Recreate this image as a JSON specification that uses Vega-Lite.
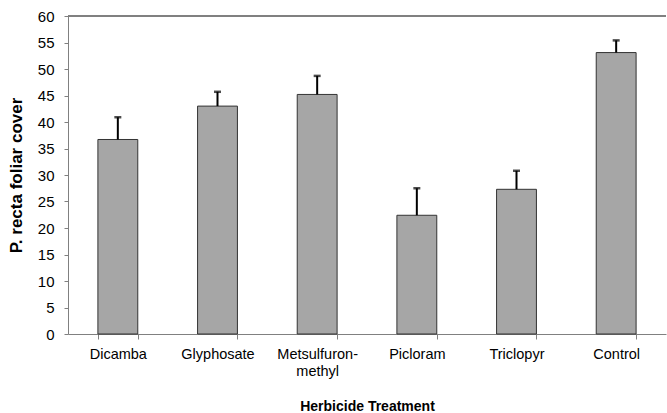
{
  "$schema": "https://vega.github.io/schema/vega-lite/v6.json",
  "autosize": {"type": "none"},
  "width": 598,
  "height": 318,
  "padding": {"left": 68, "top": 16, "right": 1, "bottom": 79},
  "background": "white",
  "config": {
    "view": {"stroke": null},
    "font": "Liberation Sans",
    "axis": {"grid": false, "labelFont": "Liberation Sans", "titleFont": "Liberation Sans", "labelColor": "#000", "titleColor": "#000", "domainColor": "#808080", "tickColor": "#808080", "labelFontSize": 14, "titleFontSize": 14, "titleFontWeight": "bold", "labelOverlap": false}
  },
  "data": {
    "values": [
      {"treatment": "Dicamba", "cover": 36.7, "upper": 40.9},
      {"treatment": "Glyphosate", "cover": 43.0, "upper": 45.7},
      {"treatment": "Metsulfuron-methyl", "cover": 45.2, "upper": 48.7},
      {"treatment": "Picloram", "cover": 22.4, "upper": 27.5},
      {"treatment": "Triclopyr", "cover": 27.3, "upper": 30.8},
      {"treatment": "Control", "cover": 53.1, "upper": 55.4}
    ]
  },
  "encoding": {
    "x": {
      "field": "treatment", "type": "nominal", "sort": null,
      "scale": {"paddingInner": 0.6, "paddingOuter": 0.3},
      "axis": {
        "title": "Herbicide Treatment", "labelAngle": 0, "tickBand": "extent", "tickSize": 5,
        "labelPadding": 8, "labelFontSize": 14.5, "titlePadding": 22,
        "labelExpr": "datum.label == 'Metsulfuron-methyl' ? ['Metsulfuron-', 'methyl'] : datum.label",
        "labelLineHeight": 17
      }
    }
  },
  "layer": [
    {
      "mark": {"type": "bar", "fill": "#a6a6a6", "stroke": "#333333", "strokeWidth": 1},
      "encoding": {
        "y": {
          "field": "cover", "type": "quantitative",
          "scale": {"domain": [0, 60], "nice": false},
          "axis": {"title": "P. recta foliar cover", "values": [0,5,10,15,20,25,30,35,40,45,50,55,60], "labelOverlap": false, "tickSize": 4, "labelPadding": 10, "labelFontSize": 15, "titlePadding": 12, "titleFontSize": 17}
        }
      }
    },
    {
      "mark": {"type": "rule", "color": "#000", "strokeWidth": 2},
      "encoding": {
        "y": {"field": "cover", "type": "quantitative", "axis": {"title": "P. recta foliar cover", "values": [0,5,10,15,20,25,30,35,40,45,50,55,60], "labelOverlap": false, "tickSize": 4, "labelPadding": 10, "labelFontSize": 15, "titlePadding": 12, "titleFontSize": 17}},
        "y2": {"field": "upper"}
      }
    },
    {
      "mark": {"type": "tick", "color": "#000", "thickness": 2.5, "size": 7, "orient": "horizontal"},
      "encoding": {
        "y": {"field": "upper", "type": "quantitative", "axis": {"title": "P. recta foliar cover", "values": [0,5,10,15,20,25,30,35,40,45,50,55,60], "labelOverlap": false, "tickSize": 4, "labelPadding": 10, "labelFontSize": 15, "titlePadding": 12, "titleFontSize": 17}}
      }
    },
    {
      "mark": {"type": "rule", "color": "#808080", "strokeWidth": 2},
      "encoding": {
        "y": {"datum": 60, "type": "quantitative", "axis": {"title": "P. recta foliar cover", "values": [0,5,10,15,20,25,30,35,40,45,50,55,60], "labelOverlap": false, "tickSize": 4, "labelPadding": 10, "labelFontSize": 15, "titlePadding": 12, "titleFontSize": 17}},
        "x": {"value": 0},
        "x2": {"value": 598}
      }
    }
  ]
}
